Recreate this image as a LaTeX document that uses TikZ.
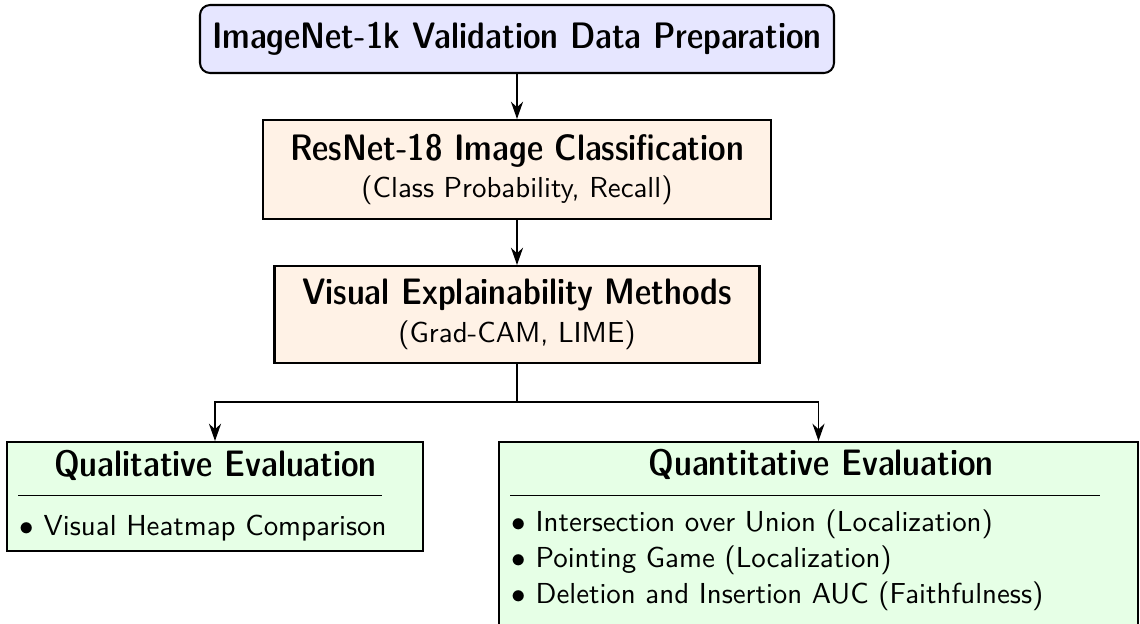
\documentclass[tikz,border=0pt]{standalone}
\usetikzlibrary{arrows.meta}
\definecolor{boxblue}{RGB}{230,230,255}
\definecolor{boxorange}{RGB}{255,242,230}
\definecolor{boxgreen}{RGB}{230,255,230}
\newcommand{\ttlfont}{\sffamily\fontseries{sbc}\fontsize{12.75}{15}\selectfont}
\def\u{0.346pt}
\begin{document}
\begin{tikzpicture}[x=0.346pt,y=-0.346pt,
  box/.style={draw=black, line width=0.7pt, inner sep=0pt, align=center, font=\sffamily},
  conn/.style={line width=0.55pt},
  arr/.style={conn, -{Stealth[length=6pt,width=4.2pt]}},
  ttl/.style={inner sep=0pt, anchor=base, font=\ttlfont},
  item/.style={inner sep=0pt, anchor=base west, font=\sffamily},
  rulel/.style={line width=0.35pt}]
\clip (0,0) rectangle (1140,623);
% main column
\node[box, fill=boxblue, rounded corners=3.5pt, minimum width=634*\u, minimum height=68*\u] (data) at (517,39)
  {\ttlfont ImageNet-1k Validation Data Preparation};
\node[box, fill=boxorange, minimum width=508*\u, minimum height=99*\u] (cls) at (517,169.5)
  {{\ttlfont ResNet-18 Image Classification}\\[1pt] (Class Probability, Recall)};
\node[box, fill=boxorange, minimum width=485*\u, minimum height=97*\u] (xai) at (517,314.5)
  {{\ttlfont Visual Explainability Methods}\\[1pt] (Grad-CAM, LIME)};
% evaluation boxes
\node[box, fill=boxgreen, minimum width=416*\u, minimum height=109*\u] (qual) at (215,496.5) {};
\node[box, fill=boxgreen, minimum width=639*\u, minimum height=260*\u] (quant) at (818.5,572) {};
\node[ttl] (qualttl) at (215.5,476) {Qualitative Evaluation};
\node[ttl] (quantttl) at (821,475) {Quantitative Evaluation};
\coordinate (qr1) at (18,495.5);
\coordinate (qr2) at (382,495.5);
\coordinate (tr1) at (510,495.5);
\coordinate (tr2) at (1100,495.5);
\draw[rulel] (qr1) -- (qr2);
\draw[rulel] (tr1) -- (tr2);
\node[item] (q1) at (19,535) {$\bullet$ Visual Heatmap Comparison};
\node[item] (t1) at (511,531) {$\bullet$ Intersection over Union (Localization)};
\node[item] (t2) at (511,567) {$\bullet$ Pointing Game (Localization)};
\node[item] (t3) at (511,603) {$\bullet$ Deletion and Insertion AUC (Faithfulness)};
% connectors
\coordinate (split) at (517,402);
\draw[arr] (data) -- (cls);
\draw[arr] (cls) -- (xai);
\draw[conn] (xai.south) -- (split);
\draw[arr] (split) -| (qual.north);
\draw[arr] (split) -| (quant.north);
\end{tikzpicture}
\end{document}
